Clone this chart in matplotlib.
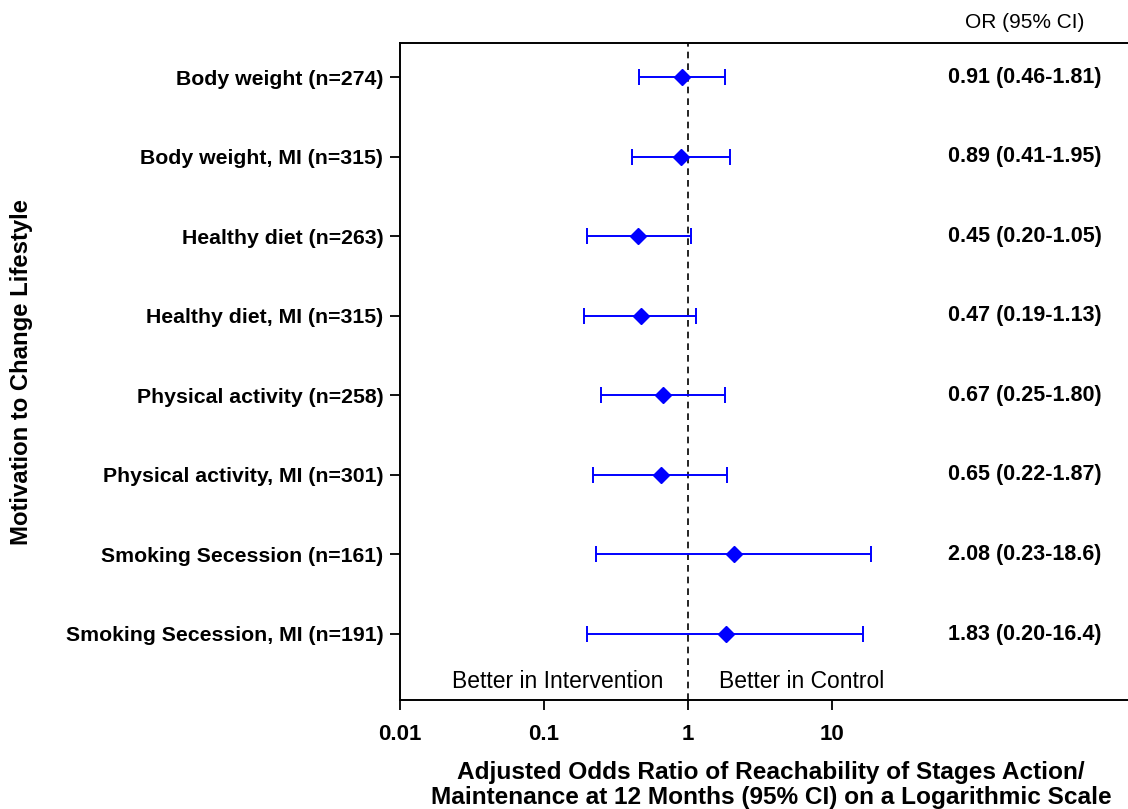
import matplotlib.pyplot as plt
import numpy as np

plt.rcParams['font.family'] = ['Liberation Sans', 'DejaVu Sans']

labels = [
    'Body weight (n=274)',
    'Body weight, MI (n=315)',
    'Healthy diet (n=263)',
    'Healthy diet, MI (n=315)',
    'Physical activity (n=258)',
    'Physical activity, MI (n=301)',
    'Smoking Secession (n=161)',
    'Smoking Secession, MI (n=191)',
]
odds = [0.91, 0.89, 0.45, 0.47, 0.67, 0.65, 2.08, 1.83]
ci_low = [0.46, 0.41, 0.20, 0.19, 0.25, 0.22, 0.23, 0.20]
ci_high = [1.81, 1.95, 1.05, 1.13, 1.80, 1.87, 18.6, 16.4]
or_text = [
    '0.91 (0.46-1.81)',
    '0.89 (0.41-1.95)',
    '0.45 (0.20-1.05)',
    '0.47 (0.19-1.13)',
    '0.67 (0.25-1.80)',
    '0.65 (0.22-1.87)',
    '2.08 (0.23-18.6)',
    '1.83 (0.20-16.4)',
]
xticks = [0.01, 0.1, 1, 10]
xtick_labels = ['0.01', '0.1', '1', '10']

W, H = 1128, 809
fig = plt.figure(figsize=(W / 100, H / 100), dpi=100)
ax = fig.add_axes([400 / W, (H - 700) / H, 1 - 400 / W, (700 - 43) / H])

y = np.arange(len(labels))
odds_a = np.array(odds)
err = np.array([odds_a - np.array(ci_low), np.array(ci_high) - odds_a])

ax.errorbar(odds, y, xerr=err, fmt='D', color='#0000ff', ms=8.2,
            elinewidth=1.4, capsize=5.8, capthick=1.4, zorder=3)
ax.axvline(1, color='black', ls=(0, (4, 3)), lw=1.2, zorder=2)

ax.set_xscale('log')
ax.set_xlim(0.01, 10 ** (-2 + 728 / 144))
ax.set_ylim(7.83, -0.43)
ax.set_xticks(xticks)
ax.set_xticklabels(xtick_labels, fontweight='bold', fontsize=16)
ax.minorticks_off()
ax.set_yticks(y)
ax.set_yticklabels(labels, fontweight='bold', fontsize=15.3)
ax.tick_params(axis='both', direction='out', length=7, width=1.3)
ax.tick_params(axis='x', pad=10)
ax.tick_params(axis='y', pad=5)
ax.spines['right'].set_visible(False)
for s in ['left', 'top', 'bottom']:
    ax.spines[s].set_linewidth(1.4)

for yi, t in zip(y, or_text):
    fig.text(1025 / W, 1 - (77 + yi * 79.6) / H, t, ha='center', va='center',
             fontweight='bold', fontsize=15.5)
fig.text(1025 / W, 1 - 22 / H, 'OR (95% CI)', ha='center', va='center', fontsize=15)

ax.text(0.67, 7.6, 'Better in Intervention', ha='right', va='center', fontsize=16.5)
ax.text(1.64, 7.6, 'Better in Control', ha='left', va='center', fontsize=16.5)

fig.text(771 / W, 1 - 785 / H,
         'Adjusted Odds Ratio of Reachability of Stages Action/\n'
         'Maintenance at 12 Months (95% CI) on a Logarithmic Scale',
         ha='center', va='center', fontweight='bold', fontsize=17.6, linespacing=1.1)
fig.text(22 / W, 1 - 372 / H, 'Motivation to Change Lifestyle', rotation=90,
         ha='center', va='center', fontweight='bold', fontsize=17.2)

fig.savefig('out.png', dpi=100)
